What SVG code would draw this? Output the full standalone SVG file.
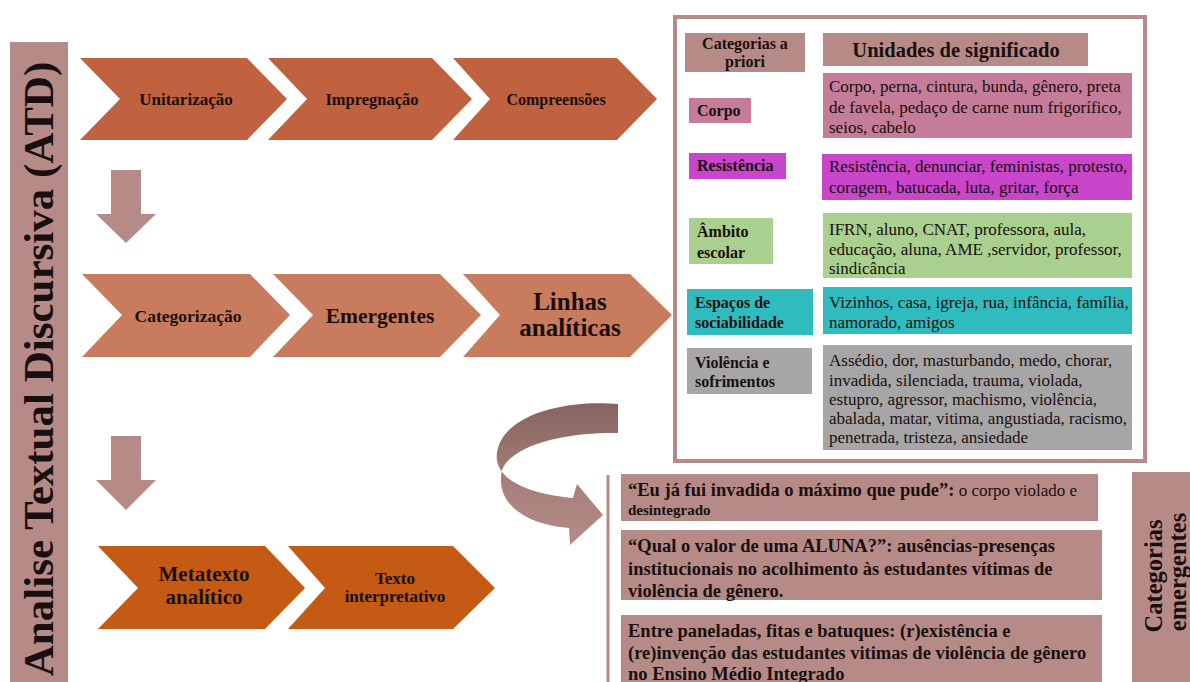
<svg xmlns="http://www.w3.org/2000/svg" width="1190" height="682" viewBox="0 0 1190 682" font-family="'Liberation Serif', 'DejaVu Serif', serif">
<defs>
<style>
text{font-family:'Liberation Serif','DejaVu Serif',serif;fill:#1a0f0f}
.b{font-weight:bold}
.c{text-anchor:middle}
.r1{fill:#c0613f}
.r2{fill:#c97b5e}
.r3{fill:#c55a14}
.rose{fill:#b68b87}
.d{font-size:17px}
.l{font-size:16px;font-weight:bold}
.e{font-size:18.5px;font-weight:bold}
</style>
<linearGradient id="curve" x1="0" y1="0" x2="0" y2="1">
<stop offset="0" stop-color="#86645f"/>
<stop offset="0.55" stop-color="#a77f7a"/>
<stop offset="1" stop-color="#b68b87"/>
</linearGradient>
</defs>
<rect width="1190" height="682" fill="#ffffff"/>

<g id="title-bar">
<rect class="rose" x="10" y="42" width="58" height="640"/>
<text class="b c" font-size="43" transform="translate(53,369) rotate(-90)">Analise Textual Discursiva (ATD)</text>
</g>

<g id="connectors">
<polygon class="rose" points="111,170 141,170 141,214 156,214 126,243 96,214 111,214"/>
<polygon class="rose" points="111,436 141,436 141,480 156,480 126,510 96,480 111,480"/>
<polygon class="rose" points="733,72 752,72 752,79 760,79 742,92 723,79 733,79"/>
<path fill="url(#curve)" d="M618 404 C575 400 505 410 497 452 C493 478 525 494 573 498 L577 484 L603 515 L570 545 L569 528 C520 524 495 500 502 470 C512 445 565 432 618 433 Z"/>
<line x1="608" y1="475" x2="608" y2="682" stroke="#b68b87" stroke-width="3"/>
</g>

<g id="unitarizacao">
<polygon class="r1" points="80,58 247,58 287,99 247,140 80,140 120,99"/>
<text class="b c" font-size="17" x="186" y="105">Unitarização</text>
</g>
<g id="impregnacao">
<polygon class="r1" points="268,58 432,58 472,99 432,140 268,140 307,99"/>
<text class="b c" font-size="16.5" x="372" y="105">Impregnação</text>
</g>
<g id="compreensoes">
<polygon class="r1" points="453,58 617,58 657,99 617,140 453,140 490,99"/>
<text class="b c" font-size="16" x="556" y="105">Compreensões</text>
</g>

<g id="categorizacao">
<polygon class="r2" points="82,274 250,274 290,315 250,357 82,357 122,315"/>
<text class="b c" font-size="17.5" x="188" y="322">Categorização</text>
</g>
<g id="emergentes">
<polygon class="r2" points="273,274 440,274 481,315 440,357 273,357 313,315"/>
<text class="b c" font-size="21.5" x="380" y="323">Emergentes</text>
</g>
<g id="linhas">
<polygon class="r2" points="463,274 630,274 672,315 630,357 463,357 500,315"/>
<text class="b c" font-size="25" x="570" y="310">Linhas</text>
<text class="b c" font-size="25" x="570" y="336">analíticas</text>
</g>

<g id="metatexto">
<polygon class="r3" points="98,546 265,546 305,588 265,629 98,629 138,588"/>
<text class="b c" font-size="21" x="204" y="581">Metatexto</text>
<text class="b c" font-size="21" x="204" y="604">analítico</text>
</g>
<g id="texto-interpretativo">
<polygon class="r3" points="288,546 453,546 495,588 453,629 288,629 325,588"/>
<text class="b c" font-size="17" x="395" y="584">Texto</text>
<text class="b c" font-size="17" x="395" y="602">interpretativo</text>
</g>

<g id="panel">
<rect x="675" y="17" width="470" height="444" fill="#ffffff" stroke="#b68b87" stroke-width="4"/>
</g>
<g id="categorias-a-priori">
<rect class="rose" x="685" y="33" width="120" height="39"/>
<text class="b c" font-size="16" x="745" y="49">Categorias a</text>
<text class="b c" font-size="16" x="745" y="67">priori</text>
</g>
<g id="unidades">
<rect class="rose" x="823" y="33" width="265" height="33"/>
<text class="b c" font-size="20.5" x="956" y="57">Unidades de significado</text>
</g>

<g id="corpo">
<rect x="689" y="98" width="62" height="25" fill="#c47c98"/>
<text class="l" x="697" y="116">Corpo</text>
<rect x="823" y="73" width="309" height="65" fill="#c47c98"/>
<text class="d" x="829" y="92">Corpo, perna, cintura, bunda, gênero, preta</text>
<text class="d" x="829" y="113">de favela, pedaço de carne num frigorífico,</text>
<text class="d" x="829" y="133">seios, cabelo</text>
</g>

<g id="resistencia">
<rect x="689" y="153" width="97" height="26" fill="#c945c9"/>
<text class="l" x="697" y="171">Resistência</text>
<rect x="822" y="154" width="310" height="46" fill="#c945c9"/>
<text class="d" x="829" y="172">Resistência, denunciar, feministas, protesto,</text>
<text class="d" x="829" y="193">coragem, batucada, luta, gritar, força</text>
</g>

<g id="ambito-escolar">
<rect x="689" y="218" width="84" height="46" fill="#a9d08e"/>
<text class="l" x="697" y="237">Âmbito</text>
<text class="l" x="697" y="258">escolar</text>
<rect x="823" y="213" width="309" height="65" fill="#a9d08e"/>
<text class="d" x="829" y="235">IFRN, aluno, CNAT, professora, aula,</text>
<text class="d" x="829" y="255">educação, aluna, AME ,servidor, professor,</text>
<text class="d" x="829" y="274">sindicância</text>
</g>

<g id="espacos">
<rect x="687" y="289" width="126" height="46" fill="#30bcbe"/>
<text class="l" x="695" y="308">Espaços de</text>
<text class="l" x="695" y="328">sociabilidade</text>
<rect x="823" y="287" width="309" height="47" fill="#30bcbe"/>
<text class="d" x="829" y="308">Vizinhos, casa, igreja, rua, infância, família,</text>
<text class="d" x="829" y="328">namorado, amigos</text>
</g>

<g id="violencia">
<rect x="687" y="348" width="125" height="46" fill="#a6a6a6"/>
<text class="l" x="695" y="368">Violência e</text>
<text class="l" x="695" y="387">sofrimentos</text>
<rect x="823" y="345" width="309" height="105" fill="#a6a6a6"/>
<text class="d" x="829" y="366">Assédio, dor, masturbando, medo, chorar,</text>
<text class="d" x="829" y="386">invadida, silenciada, trauma, violada,</text>
<text class="d" x="829" y="405">estupro, agressor, machismo, violência,</text>
<text class="d" x="829" y="424">abalada, matar, vitima, angustiada, racismo,</text>
<text class="d" x="829" y="443">penetrada, tristeza, ansiedade</text>
</g>

<g id="emergente-1">
<rect class="rose" x="621" y="474" width="477" height="47"/>
<text class="e" x="628" y="496">“Eu já fui invadida o máximo que pude”:<tspan font-weight="normal" font-size="17"> o corpo violado e</tspan></text>
<text class="b" font-size="15" x="628" y="515">desintegrado</text>
</g>
<g id="emergente-2">
<rect class="rose" x="621" y="530" width="481" height="70"/>
<text class="e" x="628" y="552">“Qual o valor de uma ALUNA?”: ausências-presenças</text>
<text class="e" x="628" y="575">institucionais no acolhimento às estudantes vítimas de</text>
<text class="e" x="628" y="597">violência de gênero.</text>
</g>
<g id="emergente-3">
<rect class="rose" x="621" y="615" width="481" height="67"/>
<text class="e" x="628" y="637">Entre paneladas, fitas e batuques: (r)existência e</text>
<text class="e" x="628" y="659">(re)invenção das estudantes vitimas de violência de gênero</text>
<text class="e" x="628" y="680">no Ensino Médio Integrado</text>
</g>

<g id="categorias-emergentes">
<rect class="rose" x="1132" y="472" width="58" height="210"/>
<text class="b c" font-size="24.5" transform="translate(1162,576) rotate(-90)">Categorias</text>
<text class="b c" font-size="24.5" transform="translate(1186,572) rotate(-90)">emergentes</text>
</g>
</svg>
